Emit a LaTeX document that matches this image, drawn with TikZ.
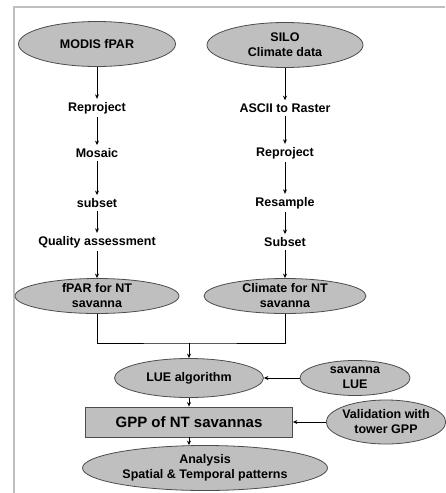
\documentclass[tikz,border=0pt]{standalone}
\usepackage{fontspec}
\setmainfont{Liberation Sans}
\usetikzlibrary{shapes.geometric,arrows.meta}

\begin{document}
\begin{tikzpicture}[x=1pt,y=-1pt,line width=0.7pt,
        font=\fontsize{12.5}{15}\selectfont\bfseries,
        >={Stealth[length=4.5pt,width=4pt]},
        oval/.style={ellipse,draw=black!70,fill=black!25,line width=0.8pt,inner sep=-1.5pt,align=center},
        stage/.style={inner sep=3pt}]
        \useasboundingbox (0,0) rectangle (445,493);
        \draw[black!25,line width=1.5pt] (14,493) -- (14,7) -- (445,7);
        \node[oval,minimum width=157pt,minimum height=45pt] (modis) at (97,44) {MODIS fPAR};
        \node[oval,minimum width=156pt,minimum height=45pt] (silo) at (285,45) {SILO\\Climate data};
        \node[stage] (m1) at (97,108) {Reproject};
        \node[stage] (m2) at (97,153) {Mosaic};
        \node[stage] (m3) at (97,203) {subset};
        \node[stage] (m4) at (97,242) {Quality assessment};
        \node[oval,minimum width=164pt,minimum height=35pt] (fpar) at (97,296) {fPAR for NT\\savanna};
        \node[stage] (s1) at (285,108) {ASCII to Raster};
        \node[stage] (s2) at (285,153) {Reproject};
        \node[stage] (s3) at (285,203) {Resample};
        \node[stage] (s4) at (285,242) {Subset};
        \node[oval,minimum width=162pt,minimum height=35pt] (clim) at (285,296) {Climate for NT\\savanna};
        \coordinate (join) at (189,343);
        \node[oval,minimum width=149pt,minimum height=39pt] (lue) at (189,378) {LUE algorithm};
        \node[oval,minimum width=110pt,minimum height=35pt] (slue) at (355,378) {savanna\\LUE};
        \node[draw=black!70,fill=black!25,line width=0.8pt,minimum width=207pt,minimum height=30pt,
              font=\fontsize{15}{18}\selectfont\bfseries] (gpp) at (189,422) {GPP of NT savannas};
        \node[oval,minimum width=118pt,minimum height=44pt] (valid) at (386,422) {Validation with\\tower GPP};
        \node[oval,minimum width=245pt,minimum height=45pt] (ana) at (205,468) {Analysis\\Spatial \& Temporal patterns};
        \draw[->] (modis) -- (m1);
        \draw[->] (m1) -- (m2);
        \draw[->] (m2) -- (m3);
        \draw[->] (m3) -- (m4);
        \draw[->] (m4) -- (fpar);
        \draw[->] (silo) -- (s1);
        \draw[->] (s1) -- (s2);
        \draw[->] (s2) -- (s3);
        \draw[->] (s3) -- (s4);
        \draw[->] (s4) -- (clim);
        \draw (fpar) |- (join) -| (clim);
        \draw[->] (join) -- (lue);
        \draw[->] (slue) -- (lue);
        \draw[->] (lue) -- (gpp);
        \draw[->] (valid) -- (gpp);
        \draw[->] (gpp) -- (gpp |- ana.north);
\end{tikzpicture}
\end{document}
